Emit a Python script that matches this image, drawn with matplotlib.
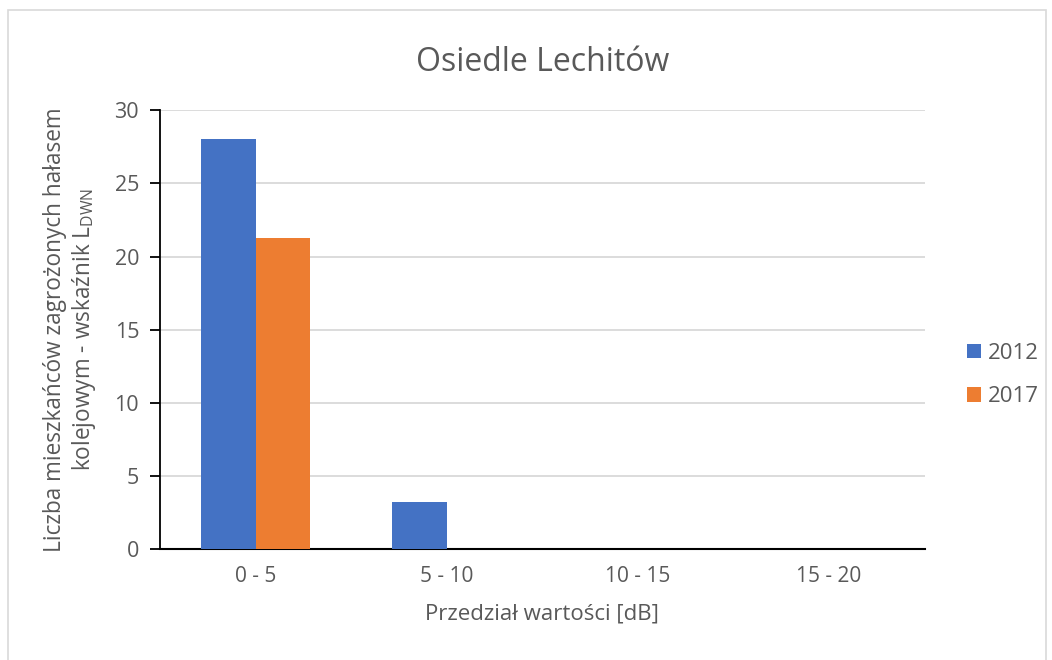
import matplotlib.pyplot as plt
import numpy as np
from matplotlib.patches import Rectangle

plt.rcParams['font.family'] = ['Open Sans', 'DejaVu Sans']

# data
categories = ['0 - 5', '5 - 10', '10 - 15', '15 - 20']
years = ['2012', '2017']
values_2012 = [28.0, 3.2, 0, 0]
values_2017 = [21.3, 0, 0, 0]
colors = ['#4472C4', '#ED7D31']
text_color = '#595959'

fig = plt.figure(figsize=(10.52, 6.6), dpi=100)
ax = fig.add_axes([0.152, 0.168, 0.727, 0.665])

# light chart border like Excel
fig.patches.append(Rectangle((0.008, -0.01), 0.986, 0.995, transform=fig.transFigure,
                             fill=False, edgecolor='#D9D9D9', linewidth=1.2))

x = np.arange(len(categories))
w = 0.285
ax.bar(x - w / 2, values_2012, w, color=colors[0], label=years[0], zorder=3)
ax.bar(x + w / 2, values_2017, w, color=colors[1], label=years[1], zorder=3)

ax.set_xlim(-0.5, len(categories) - 0.5)
ax.set_ylim(0, 30)
ax.set_yticks(np.arange(0, 31, 5))
ax.set_xticks(x)
ax.set_xticklabels(categories)
ax.grid(axis='y', color='#D9D9D9', linewidth=1.3, zorder=0)

for s in ['top', 'right']:
    ax.spines[s].set_visible(False)
ax.spines['left'].set_color('black')
ax.spines['left'].set_linewidth(1.3)
ax.spines['bottom'].set_color('black')
ax.spines['bottom'].set_linewidth(1.5)
ax.tick_params(axis='y', length=7, width=1.3, colors='black', labelcolor=text_color,
               labelsize=15.5, pad=8)
ax.tick_params(axis='x', length=0, labelcolor=text_color, labelsize=15, pad=12)

ax.set_title('Osiedle Lechitów', fontsize=23, color=text_color, pad=28)
ax.set_xlabel('Przedział wartości [dB]', fontsize=16, color=text_color, labelpad=12)
ax.set_ylabel('Liczba mieszkańców zagrożonych hałasem\nkolejowym - wskaźnik L$_\\mathregular{DWN}$',
              fontsize=16.3, color=text_color, labelpad=12, linespacing=1.15)

ax.legend(loc='center left', bbox_to_anchor=(1.055, 0.397), frameon=False, fontsize=16,
          labelcolor=text_color, handlelength=0.65, handleheight=0.65, handletextpad=0.3,
          labelspacing=1.0, borderpad=0, borderaxespad=0)

plt.savefig('out.png', dpi=100)
